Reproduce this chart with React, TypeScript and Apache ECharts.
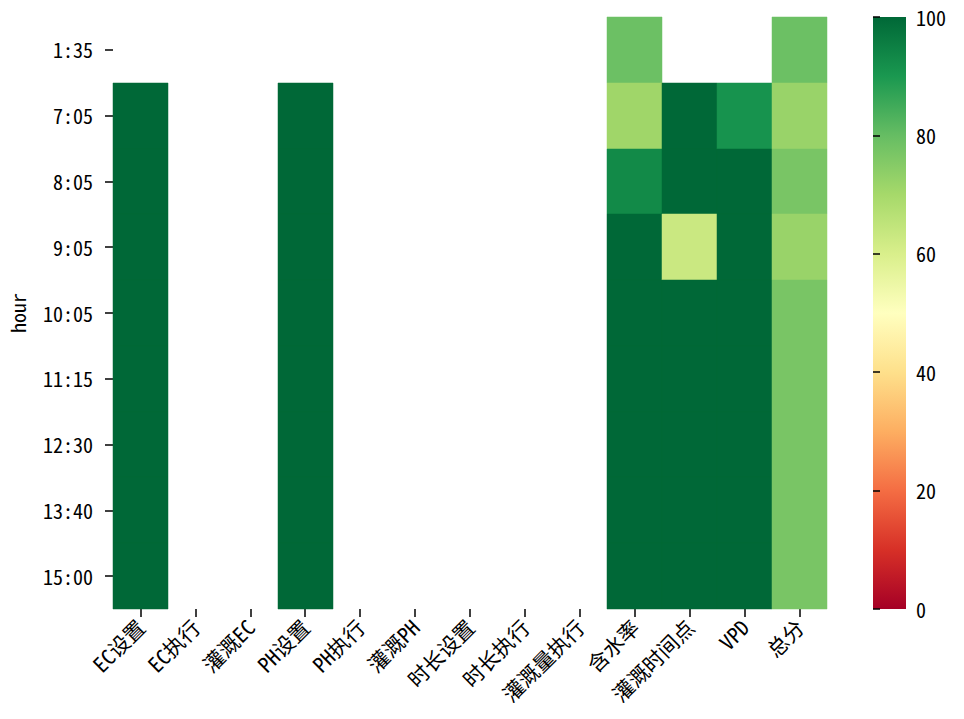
import React, { useEffect, useRef } from "react";
import * as echarts from "echarts";

const hours = ["1:35", "7:05", "8:05", "9:05", "10:05", "11:15", "12:30", "13:40", "15:00"];
const metrics = ["EC设置", "EC执行", "灌溉EC", "PH设置", "PH执行", "灌溉PH", "时长设置", "时长执行", "灌溉量执行", "含水率", "灌溉时间点", "VPD", "总分"];

const N = null;
// values per metric, one per hour (null = missing)
const ecSet = [N, 100, 100, 100, 100, 100, 100, 100, 100];
const ecExec = [N, N, N, N, N, N, N, N, N];
const ecIrr = [N, N, N, N, N, N, N, N, N];
const phSet = [N, 100, 100, 100, 100, 100, 100, 100, 100];
const phExec = [N, N, N, N, N, N, N, N, N];
const phIrr = [N, N, N, N, N, N, N, N, N];
const durSet = [N, N, N, N, N, N, N, N, N];
const durExec = [N, N, N, N, N, N, N, N, N];
const volExec = [N, N, N, N, N, N, N, N, N];
const moisture = [79, 71, 93, 100, 100, 100, 100, 100, 100];
const irrTime = [N, 100, 100, 63, 100, 100, 100, 100, 100];
const vpd = [N, 91, 100, 100, 100, 100, 100, 100, 100];
const total = [79, 72, 77, 72, 77, 77, 77, 77, 77];

const columns = [ecSet, ecExec, ecIrr, phSet, phExec, phIrr, durSet, durExec, volExec, moisture, irrTime, vpd, total];

const colorTicks = [0, 20, 40, 60, 80, 100];
const rdYlGn = ["#a50026", "#d73027", "#f46d43", "#fdae61", "#fee08b", "#ffffbf", "#d9ef8b", "#a6d96a", "#66bd63", "#1a9850", "#006837"];

const FONT = "'Noto Sans Mono CJK SC', 'Noto Sans CJK SC', sans-serif";

export default function App() {
  const ref = useRef<HTMLDivElement>(null);
  useEffect(() => {
    if (!ref.current) return;
    const chart = echarts.init(ref.current, null, { renderer: "svg" });
    const vmin = colorTicks[0];
    const vmax = colorTicks[colorTicks.length - 1];
    const data: any[] = [];
    columns.forEach((col, xi) => {
      col.forEach((v, yi) => {
        if (v !== null) data.push([xi, yi, v]);
      });
    });
    const plotL = 113, plotT = 17, plotW = 714, plotH = 592;
    const cbL = 873, cbW = 33;
    chart.setOption({
      animation: false,
      backgroundColor: "#ffffff",
      grid: [
        { left: plotL, top: plotT, width: plotW, height: plotH, containLabel: false, outerBoundsMode: "none" },
        { left: cbL, top: plotT, width: cbW, height: plotH, containLabel: false, outerBoundsMode: "none" },
      ],
      xAxis: [
        {
          type: "category",
          data: metrics,
          gridIndex: 0,
          axisLine: { show: false },
          axisTick: { show: true, alignWithLabel: true, length: 8, lineStyle: { color: "#000", width: 1.5 } },
          axisLabel: { rotate: 45, fontSize: 21, color: "#000", margin: 14, fontFamily: FONT, interval: 0 },
          splitLine: { show: false },
        },
        { type: "value", gridIndex: 1, show: false, min: 0, max: 1 },
      ],
      yAxis: [
        {
          type: "category",
          data: hours,
          inverse: true,
          gridIndex: 0,
          name: "hour",
          nameLocation: "middle",
          nameGap: 86,
          nameRotate: 90,
          nameTextStyle: { fontSize: 20, color: "#000", fontFamily: FONT },
          axisLine: { show: false },
          axisTick: { show: true, alignWithLabel: true, length: 8, lineStyle: { color: "#000", width: 1.5 } },
          axisLabel: { fontSize: 20, color: "#000", margin: 20, fontFamily: FONT, interval: 0 },
          splitLine: { show: false },
        },
        {
          type: "value",
          gridIndex: 1,
          position: "right",
          min: vmin,
          max: vmax,
          interval: 20,
          axisLine: { show: false },
          axisTick: { show: true, length: 7, lineStyle: { color: "#000", width: 1.5 } },
          axisLabel: { fontSize: 20, color: "#000", margin: 10, fontFamily: FONT },
          splitLine: { show: false },
        },
      ],
      graphic: [
        {
          type: "rect",
          left: cbL,
          top: plotT,
          shape: { width: cbW, height: plotH },
          style: {
            fill: new echarts.graphic.LinearGradient(
              0, 1, 0, 0,
              rdYlGn.map((c, i) => ({ offset: i / (rdYlGn.length - 1), color: c }))
            ),
          },
          z: -1,
        },
      ],
      series: [
        {
          type: "custom",
          xAxisIndex: 0,
          yAxisIndex: 0,
          data,
          encode: { x: 0, y: 1 },
          renderItem: (params: any, api: any) => {
            const xi = api.value(0);
            const yi = api.value(1);
            const v = api.value(2);
            const c = api.coord([xi, yi]);
            const s = api.size([1, 1]);
            const x0 = Math.round(c[0] - s[0] / 2);
            const x1 = Math.round(c[0] + s[0] / 2);
            const y0 = Math.round(c[1] - s[1] / 2);
            const y1 = Math.round(c[1] + s[1] / 2);
            const color = echarts.color.lerp((v - vmin) / (vmax - vmin), rdYlGn) as string;
            return {
              type: "rect",
              shape: { x: x0, y: y0, width: x1 - x0, height: y1 - y0 },
              style: { fill: color, stroke: color, lineWidth: 0.5 },
            };
          },
        },
      ],
    });
    return () => chart.dispose();
  }, []);
  return <div ref={ref} style={{ width: 964, height: 719, position: "absolute", left: 0, top: 0 }} />;
}
